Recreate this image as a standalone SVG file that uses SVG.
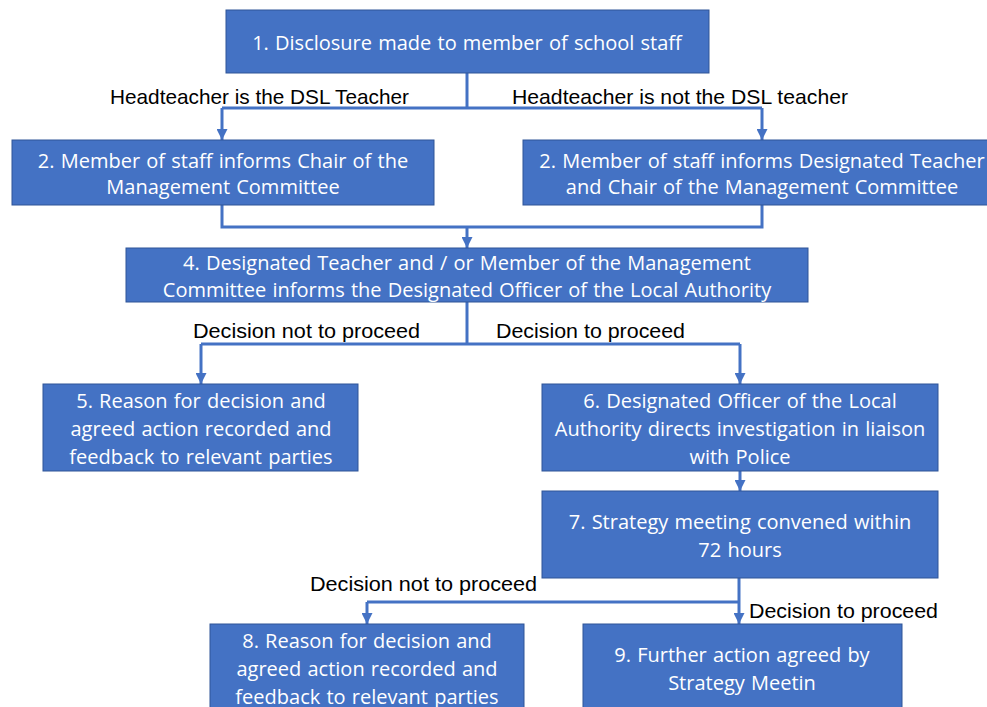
<svg xmlns="http://www.w3.org/2000/svg" width="987" height="707" viewBox="0 0 987 707">
<style>
.box{fill:#4472C4;stroke:#2F5597;stroke-width:1}
.bt{font-family:"Open Sans","Noto Sans",sans-serif;font-size:20px;fill:#FFFFFF;text-anchor:middle;word-spacing:1px}
.lb{font-family:"Liberation Sans",Arial,sans-serif;font-size:21px;fill:#000000}
.cn{fill:none;stroke:#4472C4;stroke-width:3}
</style>
<defs>
<marker id="ah" markerUnits="userSpaceOnUse" markerWidth="11" markerHeight="11" viewBox="0 0 10 10" refX="10" refY="5" orient="auto">
<path d="M0,0 L10,5 L0,10 z" fill="#4472C4"/>
</marker>
</defs>
<rect width="987" height="707" fill="#FFFFFF"/>
<g id="connectors">
<path class="cn" d="M467,73 V108"/>
<path class="cn" d="M222,108 H762"/>
<path class="cn" d="M222,108 V140" marker-end="url(#ah)"/>
<path class="cn" d="M762,108 V140" marker-end="url(#ah)"/>
<path class="cn" d="M222,205 V227 H762 V205"/>
<path class="cn" d="M467,227 V248" marker-end="url(#ah)"/>
<path class="cn" d="M467,302 V344"/>
<path class="cn" d="M201,344 H740"/>
<path class="cn" d="M201,344 V384" marker-end="url(#ah)"/>
<path class="cn" d="M740,344 V384" marker-end="url(#ah)"/>
<path class="cn" d="M740,471 V491" marker-end="url(#ah)"/>
<path class="cn" d="M739,578 V624" marker-end="url(#ah)"/>
<path class="cn" d="M367,602 H739"/>
<path class="cn" d="M367,602 V624" marker-end="url(#ah)"/>
</g>
<g id="labels">
<text class="lb" x="110" y="104" textLength="299" lengthAdjust="spacingAndGlyphs">Headteacher is the DSL Teacher</text>
<text class="lb" x="512" y="104" textLength="336" lengthAdjust="spacingAndGlyphs">Headteacher is not the DSL teacher</text>
<text class="lb" x="193" y="338" textLength="227" lengthAdjust="spacingAndGlyphs">Decision not to proceed</text>
<text class="lb" x="496" y="338" textLength="189" lengthAdjust="spacingAndGlyphs">Decision to proceed</text>
<text class="lb" x="310" y="591" textLength="227" lengthAdjust="spacingAndGlyphs">Decision not to proceed</text>
<text class="lb" x="749" y="618" textLength="189" lengthAdjust="spacingAndGlyphs">Decision to proceed</text>
</g>
<g id="n1">
<rect class="box" x="226" y="10" width="483" height="63"/>
<text class="bt" x="467" y="50">1. Disclosure made to member of school staff</text>
</g>
<g id="n2a">
<rect class="box" x="12" y="140" width="422" height="65"/>
<text class="bt" x="223" y="168">2. Member of staff informs Chair of the</text>
<text class="bt" x="223" y="194">Management Committee</text>
</g>
<g id="n2b">
<rect class="box" x="523" y="140" width="480" height="65"/>
<text class="bt" x="762" y="168">2. Member of staff informs Designated Teacher</text>
<text class="bt" x="762" y="194">and Chair of the Management Committee</text>
</g>
<g id="n4">
<rect class="box" x="126" y="248" width="682" height="54"/>
<text class="bt" x="467" y="270">4. Designated Teacher and / or Member of the Management</text>
<text class="bt" x="467" y="297">Committee informs the Designated Officer of the Local Authority</text>
</g>
<g id="n5">
<rect class="box" x="43" y="384" width="315" height="87"/>
<text class="bt" x="201" y="408">5. Reason for decision and</text>
<text class="bt" x="201" y="436">agreed action recorded and</text>
<text class="bt" x="201" y="464">feedback to relevant parties</text>
</g>
<g id="n6">
<rect class="box" x="542" y="384" width="396" height="87"/>
<text class="bt" x="740" y="408">6. Designated Officer of the Local</text>
<text class="bt" x="740" y="436">Authority directs investigation in liaison</text>
<text class="bt" x="740" y="464">with Police</text>
</g>
<g id="n7">
<rect class="box" x="542" y="491" width="396" height="87"/>
<text class="bt" x="740" y="529">7. Strategy meeting convened within</text>
<text class="bt" x="740" y="557">72 hours</text>
</g>
<g id="n8">
<rect class="box" x="210" y="624" width="314" height="90"/>
<text class="bt" x="367" y="648">8. Reason for decision and</text>
<text class="bt" x="367" y="676">agreed action recorded and</text>
<text class="bt" x="367" y="704">feedback to relevant parties</text>
</g>
<g id="n9">
<rect class="box" x="583" y="624" width="319" height="90"/>
<text class="bt" x="742" y="662">9. Further action agreed by</text>
<text class="bt" x="742" y="690">Strategy Meetin</text>
</g>
</svg>
